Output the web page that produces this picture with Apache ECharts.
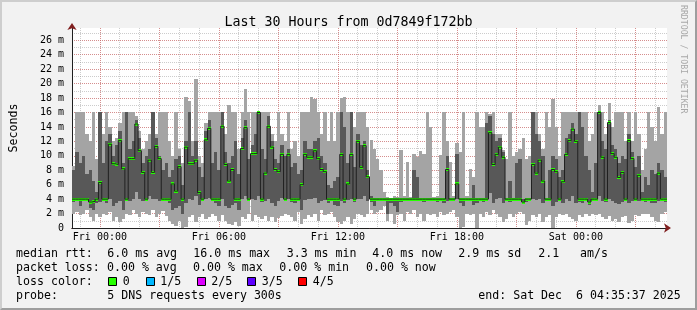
<!DOCTYPE html>
<html><head><meta charset="utf-8">
<script src="https://cdn.jsdelivr.net/npm/echarts@6/dist/echarts.min.js"></script>
<style>
html,body{margin:0;padding:0;background:#f2f2f2;}
#wrap{position:relative;width:697px;height:310px;}
#c{position:absolute;left:0;top:0;width:697px;height:310px;}
#frame{position:absolute;left:0;top:0;width:697px;height:310px;box-sizing:border-box;border:2px solid;border-color:#cecece #9e9e9e #9e9e9e #cecece;pointer-events:none;}
</style></head><body>
<div id="wrap"><div id="c"></div><div id="frame"></div></div>
<script>
// time in hours relative to Fri 00:00; one sample every 10 minutes
const T0 = -1.4064;
const STEP = 1 / 6;
const TEND = 28.5936;
const YMAX = 27.7;

const xTickVals = [0, 6, 12, 18, 24];
const xTickText = ['Fri 00:00', 'Fri 06:00', 'Fri 12:00', 'Fri 18:00', 'Sat 00:00'];

// smoke: ping1 (min), ping2, median, ping4, ping5 (max), in ms
const minv = [
 2.0,2.2,1.8,2.0,2.5,1.5,1.0,2.0,1.5,2.0,1.8,2.2,1.0,1.5,0.8,1.2,2.0,1.8,2.5,2.0,1.5,2.2,2.0,1.8,2.5,1.5,2.0,2.3,1.7,1.0,0.5,0.3,1.0,0.0,0.2,1.5,
 1.8,0.9,1.5,2.0,1.2,1.5,2.0,1.6,1.0,1.8,1.0,0.6,0.4,0.8,0.3,1.5,1.2,2.0,1.0,1.8,1.5,1.2,1.7,1.0,1.5,0.8,1.4,1.6,2.0,1.8,1.5,1.0,2.2,0.5,1.2,1.8,
 1.5,2.0,1.0,2.5,1.8,2.0,2.2,1.5,0.8,0.5,1.0,1.5,0.6,1.2,2.0,1.8,1.5,2.0,2.5,2.0,2.2,2.5,3.0,1.0,2.0,0.5,1.8,2.0,1.0,2.2,2.0,2.5,1.5,2.0,1.0,2.0,
 1.8,2.0,1.5,2.2,1.8,2.0,2.2,2.5,1.5,0.0,0.2,2.0,1.8,2.0,0.0,2.0,1.5,2.2,1.8,2.5,2.0,1.5,0.8,1.2,2.0,1.5,2.0,2.2,2.0,0.4,1.0,1.8,1.5,2.0,0.8,1.5,
 1.8,0.0,1.5,2.0,1.8,2.0,1.5,1.2,1.0,1.8,1.5,2.0,1.6,2.0,1.8,2.0,1.5,1.2,1.6,1.0,1.2,0.8,1.5,1.6,0.7,1.0,1.8,1.6,2.0,1.9,2.0,1.5,1.0,0.8,2.0,2.2
];
const p2v = [
 3.6,3.8,3.0,3.7,3.9,2.8,2.5,3.5,3.6,3.8,3.5,4.0,3.0,3.5,3.8,2.5,3.9,3.8,4.0,5.0,4.0,3.8,3.7,4.5,4.0,4.0,3.8,3.9,3.8,3.5,2.5,2.8,3.0,2.0,3.5,4.0,
 3.9,4.5,3.2,3.8,4.0,4.2,3.7,3.5,3.0,4.0,3.0,2.8,3.2,3.5,2.5,4.0,4.5,3.8,4.0,3.9,4.5,3.6,3.8,4.0,3.5,3.0,3.7,4.2,3.8,4.0,3.6,3.5,3.8,2.5,3.9,4.0,
 4.0,4.2,3.5,3.8,3.9,3.5,3.7,3.2,3.0,3.8,3.5,3.9,4.0,3.6,4.0,4.0,4.5,3.8,3.6,3.0,3.8,3.9,4.0,2.0,3.5,3.0,2.2,3.6,3.8,3.9,3.7,3.9,3.8,3.9,3.6,3.9,
 3.8,3.9,3.6,3.9,3.5,3.8,3.9,3.9,4.0,3.5,3.0,3.9,3.8,3.2,3.5,3.9,3.6,3.7,4.8,3.5,4.0,4.2,3.5,3.8,3.6,3.7,3.8,3.9,3.4,3.6,3.8,4.0,3.9,4.0,3.5,3.9,
 3.9,3.0,3.6,3.7,3.5,4.0,3.8,4.5,3.5,3.6,3.5,3.8,3.2,3.7,3.9,4.5,3.8,3.6,4.0,3.8,3.5,3.3,3.6,3.9,3.5,3.8,3.9,3.8,3.9,3.6,3.8,3.5,3.4,3.8,3.9,3.6
];
const medv = [
 4.0,4.0,4.0,4.0,4.0,3.6,3.7,4.0,6.3,4.0,4.0,11.6,8.9,8.8,12.1,8.2,4.0,9.6,9.6,14.4,10.7,7.7,4.0,9.4,7.7,11.3,9.6,4.0,4.0,4.0,6.1,5.1,8.5,4.0,11.2,8.9,
 8.9,9.4,4.9,4.0,12.2,13.8,4.0,4.0,4.0,14.1,8.8,6.5,8.1,4.0,4.0,11.0,13.9,4.0,10.3,10.3,16.0,4.0,7.6,14.1,11.2,8.1,7.8,10.2,4.0,10.2,4.0,4.0,4.0,6.0,10.2,9.8,
 9.8,10.7,9.6,8.1,7.8,4.0,4.0,4.0,4.0,10.2,4.0,6.1,10.2,4.0,12.0,8.4,11.4,7.1,4.0,4.0,4.0,4.0,4.0,4.0,4.0,4.0,4.0,4.0,4.0,4.0,4.0,4.0,4.0,4.0,4.0,4.0,
 4.0,4.0,4.0,4.0,4.0,8.1,4.0,4.0,6.1,4.0,4.0,4.0,4.0,4.0,4.0,4.0,4.0,4.0,13.2,8.8,10.2,11.2,9.8,4.0,4.0,4.0,4.0,4.0,3.6,4.0,4.0,8.8,7.6,9.4,6.5,4.0,
 4.0,8.1,7.8,4.0,6.4,10.2,12.1,13.7,12.0,4.0,4.0,4.0,3.6,4.0,4.0,16.0,9.8,4.0,14.6,10.3,9.8,7.0,7.7,4.0,12.1,9.6,4.0,7.3,4.0,4.0,4.0,4.0,4.0,7.6,4.0,4.0
];
const p4v = [
 8.0,10.5,9.0,10.0,7.5,8.0,6.5,5.0,16.0,9.0,12.0,13.0,10.0,11.5,13.5,9.0,16.0,11.0,12.0,15.0,12.5,9.0,10.0,11.0,16.0,12.5,10.0,8.0,9.0,7.0,8.0,9.5,10.0,6.0,12.0,16.0,
 10.0,12.0,8.5,7.0,13.5,15.0,9.0,10.5,8.0,16.0,10.5,9.0,10.0,12.0,7.5,12.5,15.0,9.5,11.5,13.0,16.0,11.0,9.5,15.5,12.0,9.5,9.0,11.5,10.0,11.0,8.5,9.0,7.5,8.0,12.0,11.0,
 11.0,12.0,12.5,10.0,9.0,6.0,5.5,6.5,7.0,16.0,14.0,9.0,16.0,8.5,13.0,11.5,12.0,8.0,4.5,4.2,4.1,4.1,4.0,4.1,4.0,4.1,4.0,4.1,4.2,4.0,4.1,8.0,7.0,4.1,4.2,4.1,
 4.1,4.0,4.1,4.0,4.2,10.0,4.1,4.2,10.2,4.1,4.2,4.0,4.1,6.0,4.1,4.2,4.1,14.5,15.5,13.0,12.0,12.5,10.5,4.2,6.5,4.1,9.0,9.5,4.0,4.2,4.1,16.0,13.0,12.0,10.0,4.2,
 8.0,10.0,9.5,7.0,8.0,12.5,13.0,14.5,13.0,16.0,14.0,10.0,8.0,5.0,9.0,16.0,12.0,11.0,15.0,11.5,11.0,9.0,10.0,9.5,13.0,10.5,8.5,10.0,5.0,7.0,6.0,8.0,7.5,9.0,8.0,7.0
];
const maxv = [
 8.6,16,16,16,13,12,16,9.5,16,13,16,14,12,12.5,14.5,16,16,16,16,15.5,13.5,11,12,13,16,13,16,16,16,12,10,16,11,9,18.2,17.6,
 12,20.6,10,9,14.5,16,16,16,16,16,13,17,16,16,11,16,19.3,16,16,16,16,16,16,16,13,12,16,13,12,16,11,12,10,16,16,16,
 18.2,17.9,16,13,16,12,16,12,16,18,18.2,16,16,14,16,16,16,14,12.2,11,9.5,8,5,4.3,4.2,4.5,4.3,10.8,4.4,9.2,4.3,10.2,9.9,10.6,10.2,16,
 14,4.3,4.4,10.1,16,12,9.2,4.5,11.8,10.5,16,4.4,8.2,7.0,16,14,14,16,15.8,16,13,13,10.8,9.5,16,10,10.5,11,12.4,9.5,10,16,16,13,11,16,
 14,17.9,14,10,16,16,16,16,16,16,16,16,12,13,16,17,16,13,17.3,14,16,16,16,12,16,12,16,13,8,11,16,14,12,16.8,13,16
];

const lossLabels = ['0', '1/5', '2/5', '3/5', '4/5'];
const lossColors = ['#26ff00', '#00b8ff', '#dd00ff', '#5e00ff', '#ff0000'];

const smokeData = minv.map((v, i) => [T0 + i * STEP, minv[i], p2v[i], p4v[i], maxv[i]]);
const medData = medv.map((v, i) => [T0 + i * STEP, v]);
const medLine = medData.concat([[TEND, medv[medv.length - 1]]]);

const MONO = '"DejaVu Sans Mono", monospace';
const isInt = v => Math.abs(v - Math.round(v)) < 1e-6;

const chart = echarts.init(document.getElementById('c'), null, {renderer: 'canvas'});

const legendFont = '11.6px ' + MONO;
const texts = [
  [16, 254.3, 'median rtt:'], [107.3, 254.3, '6.0 ms avg'], [193.3, 254.3, '16.0 ms max'],
  [286.7, 254.3, '3.3 ms min'], [372.3, 254.3, '4.0 ms now'], [458.3, 254.3, '2.9 ms sd'],
  [538.3, 254.3, '2.1'], [580, 254.3, 'am/s'],
  [16, 268.3, 'packet loss:'], [107, 268.3, '0.00 % avg'], [193, 268.3, '0.00 % max'],
  [279.3, 268.3, '0.00 % min'], [366, 268.3, '0.00 % now'],
  [16, 281.7, 'loss color:'],
  [16, 296, 'probe:'], [107.3, 296, '5 DNS requests every 300s'],
  [478.3, 296, 'end: Sat Dec  6 04:35:37 2025']
];
const boxX = [108.3, 145.7, 196.7, 247.3, 298.3];
const graphics = [];
texts.forEach(t => graphics.push({type: 'text', x: t[0], y: t[1], silent: true,
  style: {text: t[2], font: legendFont, fill: '#000', align: 'left', verticalAlign: 'middle'}}));
lossLabels.forEach((lab, i) => {
  graphics.push({type: 'rect', shape: {x: Math.round(boxX[i]) + 0.5, y: 277.5, width: 8, height: 8},
    style: {fill: lossColors[i], stroke: '#000', lineWidth: 1}, silent: true});
  graphics.push({type: 'text', x: boxX[i] + 14.5, y: 281.7, silent: true,
    style: {text: lab, font: legendFont, fill: '#000', align: 'left', verticalAlign: 'middle'}});
});
graphics.push({type: 'text', x: 683, y: 5, rotation: -Math.PI / 2, silent: true,
  style: {text: 'RRDTOOL / TOBI OETIKER', font: '8.2px ' + MONO, fill: '#a8a8a8', align: 'left', verticalAlign: 'middle'}});

const arrowColor = '#801f1f';
const axisColor = '#1f1f1f';
const hidden = {axisLine: {show: false}, axisTick: {show: false}, axisLabel: {show: false}, splitLine: {show: false}};

const option = {
  backgroundColor: 'transparent',
  animation: false,
  title: {text: 'Last 30 Hours from 0d7849f172bb', left: 'center', top: 11,
    textStyle: {fontFamily: MONO, fontSize: 13.3, fontWeight: 'normal', color: '#000'}},
  grid: {left: 67, right: 30, top: 28, bottom: 82, show: true, backgroundColor: '#ffffff', borderWidth: 0},
  xAxis: [
    // arrow (drawn underneath the axis line)
    Object.assign({type: 'value', position: 'bottom', min: T0, max: TEND}, hidden, {
      axisLine: {show: true, onZero: false, lineStyle: {color: arrowColor, width: 1},
        symbol: ['none', 'arrow'], symbolSize: [7, 7], symbolOffset: [0, 4]}}),
    {type: 'value', position: 'bottom', min: T0, max: TEND, splitNumber: 30, minInterval: 1, maxInterval: 1,
      axisLine: {show: false}, axisTick: {show: false}, axisLabel: {show: false},
      splitLine: {show: true, showMinLine: false, showMaxLine: false,
        lineStyle: {color: 'rgba(143,143,143,0.45)', width: 1, type: [1, 1]}}},
    {type: 'value', position: 'bottom', min: T0, max: TEND, splitNumber: 10, minInterval: 3, maxInterval: 3,
      axisLine: {show: true, onZero: false, lineStyle: {color: axisColor, width: 1}},
      axisTick: {show: false},
      axisLabel: {margin: 4, fontFamily: MONO, fontSize: 10, color: '#000',
        showMinLabel: true, showMaxLabel: true,
        formatter: v => { if (!isInt(v)) return ''; const k = xTickVals.indexOf(Math.round(v)); return k >= 0 ? xTickText[k] : ''; }},
      splitLine: {show: true, showMinLine: false, showMaxLine: false,
        lineStyle: {color: 'rgba(222,79,79,0.5)', width: 1, type: [1, 1]}}}
  ],
  yAxis: [
    Object.assign({type: 'value', min: 0, max: YMAX, position: 'left'}, hidden, {
      axisLine: {show: true, onZero: false, lineStyle: {color: arrowColor, width: 1},
        symbol: ['none', 'arrow'], symbolSize: [7, 7], symbolOffset: [0, 5]}}),
    {type: 'value', min: 0, max: YMAX, interval: 1, position: 'left',
      axisLine: {show: false}, axisTick: {show: false}, axisLabel: {show: false},
      splitLine: {show: true, showMinLine: false, showMaxLine: false,
        lineStyle: {color: 'rgba(143,143,143,0.45)', width: 1, type: [1, 1]}}},
    {type: 'value', min: 0, max: YMAX, interval: 2, position: 'left',
      name: 'Seconds', nameLocation: 'middle', nameGap: 52, nameRotate: 90,
      nameTextStyle: {fontFamily: MONO, fontSize: 11.6, color: '#000'},
      axisLine: {show: true, onZero: false, lineStyle: {color: axisColor, width: 1}},
      axisTick: {show: false},
      axisLabel: {margin: 8, fontFamily: MONO, fontSize: 10, color: '#000',
        formatter: v => { if (!isInt(v)) return ''; const r = Math.round(v); if (r % 2) return ''; return r === 0 ? '0' : r + ' m'; }},
      splitLine: {show: true, showMinLine: false, showMaxLine: false,
        lineStyle: {color: 'rgba(222,79,79,0.5)', width: 1, type: [1, 1]}}}
  ],
  graphic: graphics,
  series: [
    {type: 'custom', name: 'smoke', xAxisIndex: 2, yAxisIndex: 2, clip: true, silent: true,
      data: smokeData, encode: {x: 0, y: [1, 4]},
      renderItem: (params, api) => {
        const t = api.value(0);
        const lo = api.coord([t, api.value(1)]);
        const hi = api.coord([t + STEP, api.value(4)]);
        const d1 = api.coord([t, api.value(2)]);
        const d2 = api.coord([t + STEP, api.value(3)]);
        const x0 = Math.round(lo[0]), x1 = Math.round(hi[0]);
        return {type: 'group', children: [
          {type: 'rect', shape: {x: x0, y: Math.round(hi[1]), width: x1 - x0, height: Math.round(lo[1]) - Math.round(hi[1])},
            style: {fill: '#a4a4a4'}},
          {type: 'rect', shape: {x: x0, y: Math.round(d2[1]), width: x1 - x0, height: Math.round(d1[1]) - Math.round(d2[1])},
            style: {fill: '#585858'}}
        ]};
      }},
    {type: 'line', name: 'median', xAxisIndex: 2, yAxisIndex: 2, data: medLine, step: 'end',
      showSymbol: false, symbol: 'none', silent: true,
      lineStyle: {color: '#202020', width: 1}},
    {type: 'custom', name: 'loss0', xAxisIndex: 2, yAxisIndex: 2, clip: true, silent: true,
      data: medData, encode: {x: 0, y: 1},
      renderItem: (params, api) => {
        const t = api.value(0);
        const a = api.coord([t, api.value(1)]);
        const b = api.coord([t + STEP, api.value(1)]);
        const x0 = Math.round(a[0]), x1 = Math.round(b[0]);
        return {type: 'rect', shape: {x: x0, y: Math.round(a[1] - 1.5), width: x1 - x0, height: 3},
          style: {fill: lossColors[0]}};
      }}
  ]
};
chart.setOption(option);
</script>
</body></html>
